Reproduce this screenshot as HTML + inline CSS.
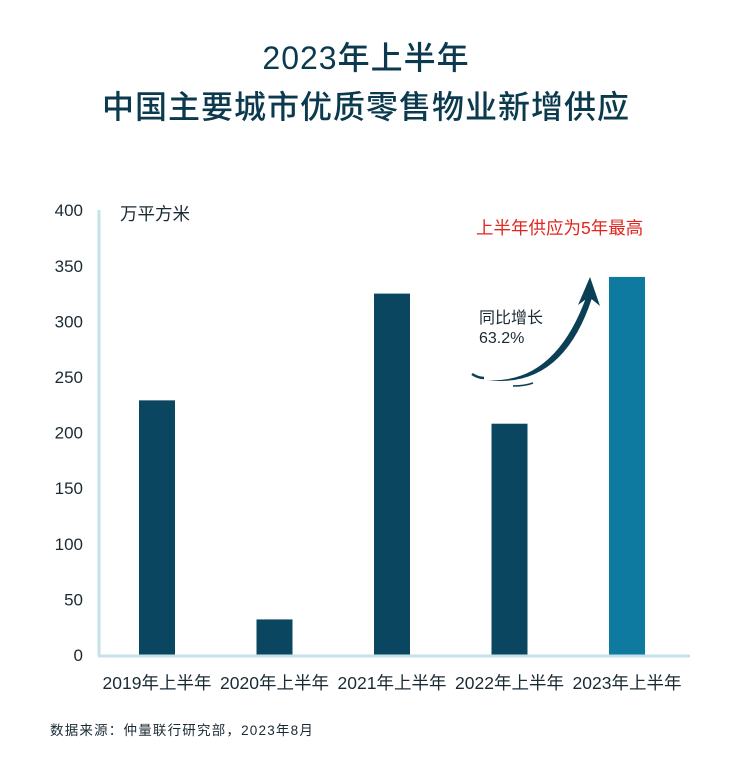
<!DOCTYPE html>
<html><head><meta charset="utf-8"><style>
body{margin:0;background:#fff;}
svg{display:block;font-family:"Liberation Sans","Noto Sans CJK SC",sans-serif;}
</style></head><body>
<svg id="chart" width="744" height="760" viewBox="0 0 744 760">
<text x="366" y="69" text-anchor="middle" font-size="32" font-weight="500" letter-spacing="1" fill="#0b3a4f">2023年上半年</text>
<text x="366" y="118" text-anchor="middle" font-size="32" font-weight="500" letter-spacing="1" fill="#0b3a4f">中国主要城市优质零售物业新增供应</text>
<text x="120" y="220" font-size="17.5" fill="#1a2a33">万平方米</text>
<g id="yticks"></g>
<g id="bars"></g>
<line x1="99" y1="210" x2="99" y2="656" stroke="#c4e2e8" stroke-width="3"/>
<line x1="98" y1="656" x2="690" y2="656" stroke="#c4e2e8" stroke-width="3"/>
<g id="xlabels"></g>
<text x="476" y="234" font-size="17.5" fill="#e0261f">上半年供应为5年最高</text>
<text x="479" y="323" font-size="16" fill="#1a2a33">同比增长</text>
<text x="479" y="343" font-size="16" fill="#1a2a33">63.2%</text>
<g>
<path d="M486,380 Q555,385 587,295 L592,298 Q562,390 486,380 Z" fill="#0b3f55"/>
<path d="M590,277 L578,305 L589,297 L600,306 Z" fill="#0b3f55"/>
<path d="M472,374 Q478,378 484,378" stroke="#0b3f55" stroke-width="2.5" fill="none"/>
<path d="M513,386 Q525,386 533,383" stroke="#0b3f55" stroke-width="1.5" fill="none"/>
</g>
<text x="50" y="735" font-size="13.5" fill="#1a2a33" letter-spacing="1.2">数据来源：仲量联行研究部，2023年8月</text>
</svg>
<script>
const categories=["2019年上半年","2020年上半年","2021年上半年","2022年上半年","2023年上半年"];
const values=[229,32,325,208,340];
const yTicks=[0,50,100,150,200,250,300,350,400];
const ns="http://www.w3.org/2000/svg";
const y0=655,pxPer=444.8/400;
function yScale(v){return y0-v*pxPer;}
function xCenter(i){return 157+i*117.5;}
const yt=document.getElementById('yticks');
yTicks.forEach(t=>{const e=document.createElementNS(ns,'text');
e.setAttribute('x',83);e.setAttribute('y',yScale(t)+6);e.setAttribute('text-anchor','end');e.setAttribute('font-size','17');e.setAttribute('fill','#1a2a33');


e.textContent=t;yt.appendChild(e);});
const bg=document.getElementById('bars'),xl=document.getElementById('xlabels');
values.forEach((v,i)=>{const r=document.createElementNS(ns,'rect');
r.setAttribute('x',xCenter(i)-18);r.setAttribute('width',36);r.setAttribute('y',yScale(v));r.setAttribute('height',y0-yScale(v));
r.setAttribute('fill',i===values.length-1?'#0e7aa0':'#0b4660');


bg.appendChild(r);
const t=document.createElementNS(ns,'text');
t.setAttribute('x',xCenter(i));t.setAttribute('y',689);t.setAttribute('text-anchor','middle');t.setAttribute('font-size','17.5');t.setAttribute('fill','#1a2a33');


t.textContent=categories[i];xl.appendChild(t);});
</script>
</body></html>
